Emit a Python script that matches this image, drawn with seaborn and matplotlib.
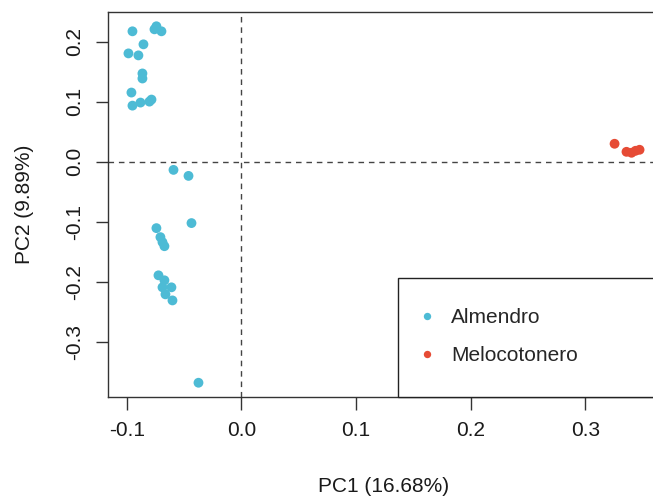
import numpy as np
import pandas as pd
import matplotlib
matplotlib.use("Agg")
import matplotlib.pyplot as plt
import seaborn as sns
from matplotlib.patches import Rectangle

# ---- data ----
almendro_pc1 = [-0.0742, -0.0759, -0.0698, -0.0951, -0.0855, -0.0986, -0.0899,
                -0.0864, -0.0864, -0.0960, -0.0785, -0.0803, -0.0881, -0.0951,
                -0.0593, -0.0462, -0.0436, -0.0742, -0.0707, -0.0689, -0.0672,
                -0.0724, -0.0672, -0.0611, -0.0689, -0.0663, -0.0602, -0.0375]
almendro_pc2 = [0.2258, 0.2207, 0.2174, 0.2174, 0.1957, 0.1806, 0.1773,
                0.1472, 0.1388, 0.1154, 0.1037, 0.1003, 0.0987, 0.0936,
                -0.0134, -0.0234, -0.1020, -0.1104, -0.1254, -0.1338, -0.1405,
                -0.1890, -0.1973, -0.2090, -0.2090, -0.2207, -0.2308, -0.3679]
meloco_pc1 = [0.3255, 0.3359, 0.3403, 0.3438, 0.3473]
meloco_pc2 = [0.0301, 0.0167, 0.0151, 0.0184, 0.0201]

groups = ["Almendro", "Melocotonero"]
colors = ["#4DBBD5", "#E64B35"]
x_ticks = [-0.1, 0.0, 0.1, 0.2, 0.3]
y_ticks = [-0.3, -0.2, -0.1, 0.0, 0.1, 0.2]
x_label = "PC1 (16.68%)"
y_label = "PC2 (9.89%)"

df = pd.DataFrame({
    "PC1": almendro_pc1 + meloco_pc1,
    "PC2": almendro_pc2 + meloco_pc2,
    "Grupo": [groups[0]] * len(almendro_pc1) + [groups[1]] * len(meloco_pc1),
})

sns.set_style("white")
FS = 15
plt.rcParams["font.family"] = ["Liberation Sans", "DejaVu Sans"]
plt.rcParams["font.size"] = FS

W, H = 653, 496
fig = plt.figure(figsize=(W / 100, H / 100), dpi=100)
L, R, T, B = 108, 660, 12, 397
ax = fig.add_axes([L / W, 1 - B / H, (R - L) / W, (B - T) / H])

sns.scatterplot(data=df, x="PC1", y="PC2", hue="Grupo", hue_order=groups,
                palette=colors, s=50, linewidth=0, ax=ax, legend=True)

xmin, xmax = min(df.PC1), max(df.PC1)
ymin, ymax = min(df.PC2), max(df.PC2)
dx, dy = (xmax - xmin) * 0.04, (ymax - ymin) * 0.04
ax.set_xlim(xmin - dx, xmax + dx)
ax.set_ylim(ymin - dy, ymax + dy)

ax.axhline(0, color="#444444", lw=1.0, ls=(0, (4, 3.5)), zorder=1)
ax.axvline(0, color="#444444", lw=1.0, ls=(0, (4, 3.5)), zorder=1)

ax.set_xticks(x_ticks)
ax.set_xticklabels([f"{v:.1f}" for v in x_ticks])
ax.set_yticks(y_ticks)
ax.set_yticklabels([f"{v:.1f}" for v in y_ticks], rotation=90, va="center")
ax.tick_params(axis="both", direction="out", length=9, width=1.0,
               color="#333333", labelcolor="#1a1a1a", labelsize=FS,
               bottom=True, left=True)
ax.tick_params(axis="x", pad=8)
ax.tick_params(axis="y", pad=8.5)
for sp in ax.spines.values():
    sp.set_color("#333333")
    sp.set_linewidth(1.0)

ax.set_xlabel(x_label, fontsize=FS, color="#1a1a1a", labelpad=27)
ax.set_ylabel(y_label, fontsize=FS, color="#1a1a1a", labelpad=22)

# legend box (bottom right, as in R's legend)
bx0 = (398 - L) / (R - L)
by1 = (B - 278) / (B - T)
ax.add_patch(Rectangle((bx0, 0), 1 - bx0, by1, transform=ax.transAxes,
                       fill=True, facecolor="white", edgecolor="#222222",
                       lw=1.0, zorder=3, clip_on=False))
lx = (408 - L) / (R - L)
ly = (B - 336.5) / (B - T)
sns.move_legend(ax, "center left", bbox_to_anchor=(lx, ly), frameon=False,
                title=None, borderpad=0, handlelength=0.8, handletextpad=0.78,
                labelspacing=0.9, markerscale=0.75, fontsize=FS)
ax.get_legend().set_zorder(4)

fig.savefig("out.png", dpi=100)
